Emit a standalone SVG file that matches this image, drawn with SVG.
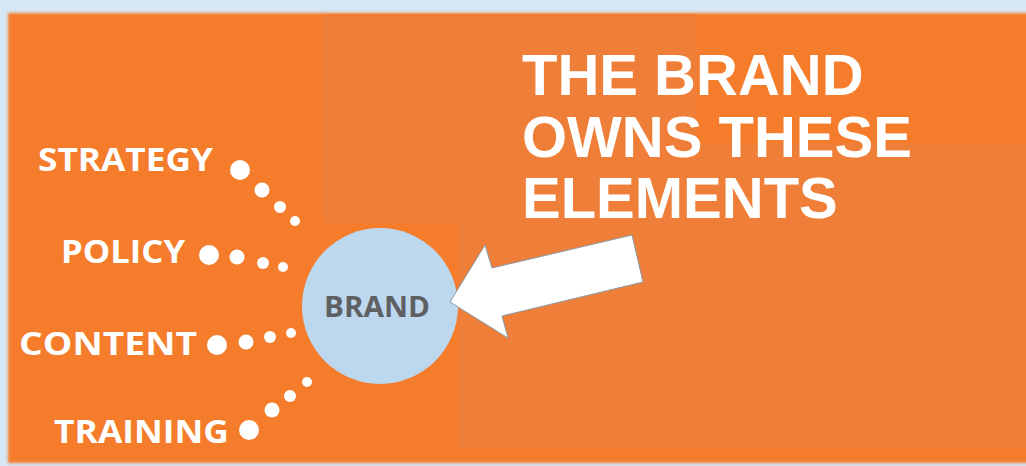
<svg xmlns="http://www.w3.org/2000/svg" width="1026" height="466" viewBox="0 0 1026 466">
  <defs>
    <filter id="soft" x="-5%" y="-5%" width="110%" height="110%">
      <feGaussianBlur stdDeviation="1.8"/>
    </filter>
    <style>
      .label { font-family: "Open Sans", "Liberation Sans", sans-serif; font-weight: 700; font-size: 32px; fill: #ffffff; }
      .dot { fill: #ffffff; }
      .title { font-family: "Liberation Sans", Arial, sans-serif; font-weight: 700; font-size: 58px; fill: #ffffff; }
      .hub-text { font-family: "Open Sans", "Liberation Sans", sans-serif; font-weight: 700; font-size: 28px; fill: #5e6064; }
    </style>
  </defs>

  <!-- page background -->
  <rect x="0" y="0" width="1026" height="466" fill="#d7e6f4"/>

  <!-- orange panel with soft edges -->
  <g filter="url(#soft)">
    <rect x="8" y="13" width="1030" height="450" fill="#f47c2a"/>
  </g>
  <!-- lighter tint blocks -->
  <path d="M322 14 H697 V143 H1026 V223 H322 Z" fill="#ef7f38"/>
  <rect x="458" y="223" width="568" height="225" fill="#ef7f38"/>

  <!-- headline -->
  <g id="headline">
    <text class="title" x="522" y="95">THE BRAND</text>
    <text class="title" x="522" y="157">OWNS THESE</text>
    <text class="title" x="522" y="218">ELEMENTS</text>
  </g>

  <!-- dotted connectors -->
  <g id="connectors">
    <circle class="dot" cx="240" cy="170" r="10"/>
    <circle class="dot" cx="262" cy="190" r="7.5"/>
    <circle class="dot" cx="280" cy="207" r="6"/>
    <circle class="dot" cx="295" cy="221" r="5"/>

    <circle class="dot" cx="209" cy="255" r="10"/>
    <circle class="dot" cx="237" cy="257" r="7.5"/>
    <circle class="dot" cx="263" cy="263" r="6"/>
    <circle class="dot" cx="283" cy="267" r="5"/>

    <circle class="dot" cx="217" cy="345" r="10"/>
    <circle class="dot" cx="246" cy="342" r="7.5"/>
    <circle class="dot" cx="270" cy="337" r="6"/>
    <circle class="dot" cx="291" cy="333" r="5"/>

    <circle class="dot" cx="249" cy="430" r="10"/>
    <circle class="dot" cx="272" cy="410" r="7.5"/>
    <circle class="dot" cx="290" cy="396" r="6"/>
    <circle class="dot" cx="307" cy="382" r="5"/>
  </g>

  <g id="strategy">
    <text class="label" x="38" y="171" textLength="175" lengthAdjust="spacingAndGlyphs">STRATEGY</text>
  </g>
  <g id="policy">
    <text class="label" x="61" y="263" textLength="124" lengthAdjust="spacingAndGlyphs">POLICY</text>
  </g>
  <g id="content">
    <text class="label" x="19" y="355" textLength="178" lengthAdjust="spacingAndGlyphs">CONTENT</text>
  </g>
  <g id="training">
    <text class="label" x="54" y="443" textLength="175" lengthAdjust="spacingAndGlyphs">TRAINING</text>
  </g>

  <!-- central hub -->
  <g id="brand">
    <circle cx="380" cy="306" r="78" fill="#bdd7ee"/>
    <text class="hub-text" x="377" y="317" text-anchor="middle" textLength="106" lengthAdjust="spacingAndGlyphs">BRAND</text>
  </g>

  <!-- block arrow pointing at the hub -->
  <g id="pointer">
    <polygon points="450,302 485,245 492,268 632,235 643,282 502,316 508,338" fill="#ffffff" stroke="#8a9aa8" stroke-width="1"/>
  </g>
</svg>
